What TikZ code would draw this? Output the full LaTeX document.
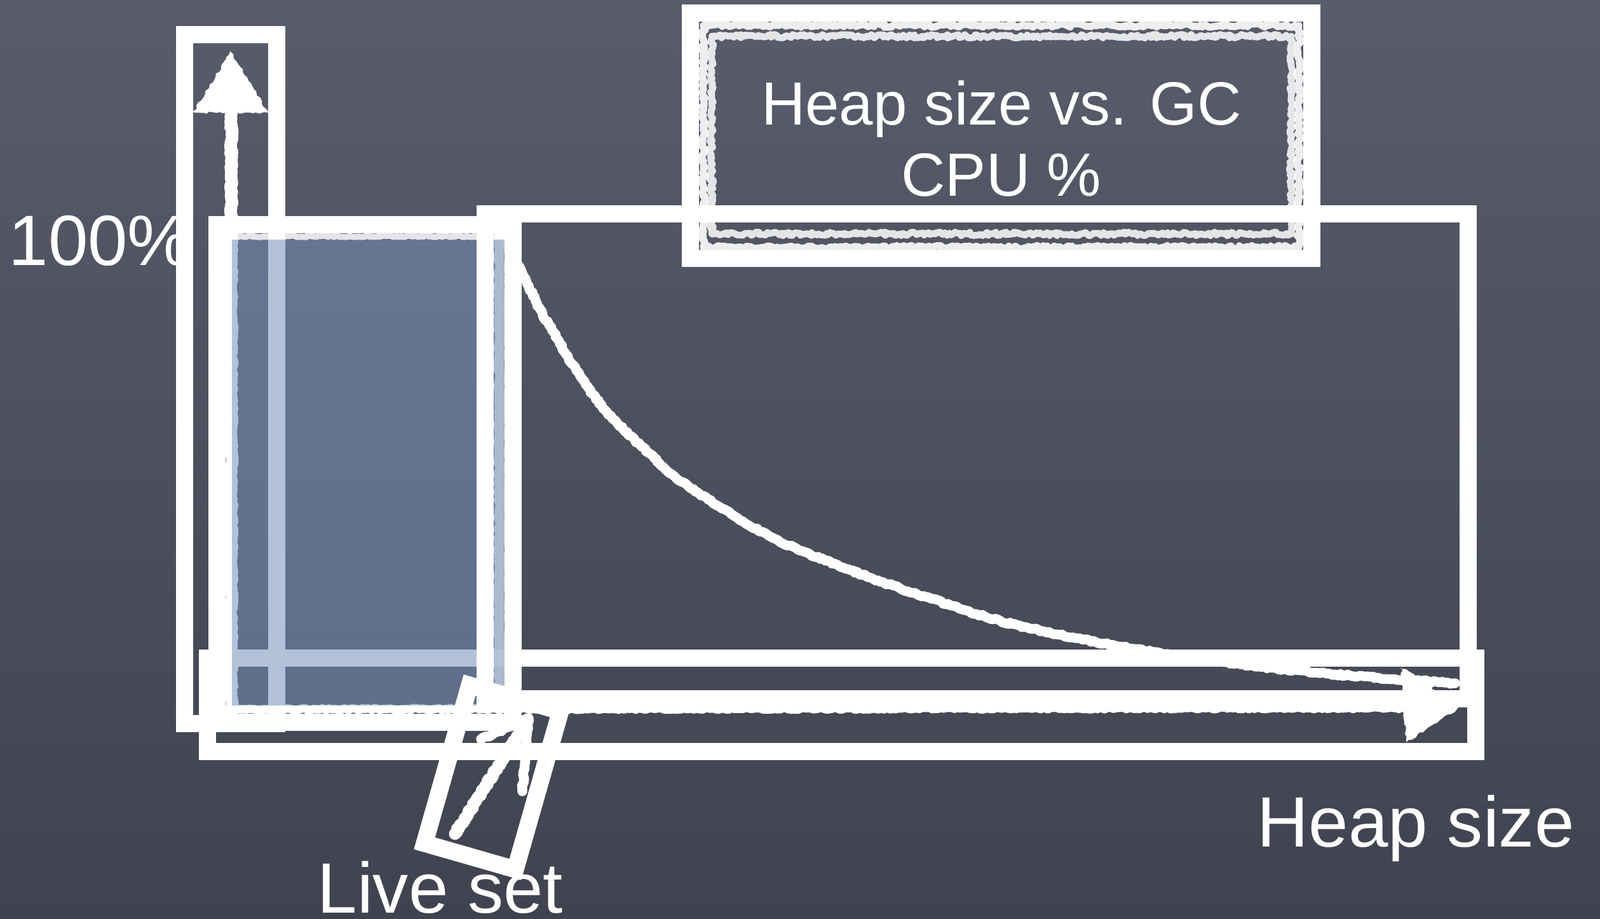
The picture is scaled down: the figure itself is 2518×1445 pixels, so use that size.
\documentclass[tikz,border=0pt]{standalone}
\usepackage{fontspec}
\setmainfont{Liberation Sans}
\usetikzlibrary{decorations.pathmorphing}
\definecolor{boardtop}{HTML}{585C6B}
\definecolor{boardmid}{HTML}{555A6A}
\definecolor{boardbottom}{HTML}{40434F}
\definecolor{liveblue}{RGB}{118,144,184}
\tikzset{
  annot/.style={draw=white, line width=7.68pt, line join=miter},
  chalk/.style={draw=white, line cap=round, line join=round, decorate,
    decoration={random steps, segment length=1.2pt, amplitude=0.45pt}},
  roughchalk/.style={draw=white, line cap=round, line join=round, decorate,
    decoration={random steps, segment length=1pt, amplitude=0.8pt}},
  chalkfill/.style={fill=white, decorate,
    decoration={random steps, segment length=1.5pt, amplitude=0.6pt}},
  lbl/.style={text=white, inner sep=0pt, font=\fontsize{31.9}{38}\selectfont},
  ttl/.style={text=white, inner sep=0pt, font=\fontsize{27.3}{33}\selectfont},
}
\begin{document}
\begin{tikzpicture}[x=0.01cm, y=-0.01cm]
\useasboundingbox (0,0) rectangle (2518,1445);
% chalkboard
\shade[top color=boardtop, middle color=boardmid, bottom color=boardbottom]
  (0,0) rectangle (2518,1445);

% title chalk double frame
\draw[roughchalk, line width=3.2pt, opacity=0.9] (1107,40) rectangle (2044,389);
\draw[roughchalk, line width=3pt, opacity=0.85] (1120,57) rectangle (2032,368);

% y axis
\draw[chalk, line width=5.6pt] (364,1120) -- (364,170);
\fill[chalkfill] (304,177) -- (422,177) -- (363,80) -- cycle;

% x axis
\draw[chalk, line width=3.8pt] (350,1116) -- (2215,1114);
\fill[chalkfill] (2205,1050) -- (2213,1168) -- (2300,1112) -- cycle;

% live set block chalk borders
\draw[chalk, line width=2.8pt, opacity=0.85] (358,372) -- (790,372);
\draw[chalk, line width=4.6pt, opacity=0.9] (786,370) -- (786,1116);

% curve
\draw[chalk, line width=4.3pt] plot[smooth, tension=0.6] coordinates {
  (786,362) (805,395) (821,427) (850,487) (877,533) (907,583) (955,648)
  (1020,712) (1083,765) (1210,843) (1338,897) (1465,942) (1593,982)
  (1767,1018) (1927,1042) (2088,1060) (2290,1075)};

% live set arrow
\draw[chalk, line width=5.4pt] (716,1312) -- (826,1140);
\draw[chalk, line width=4.4pt] (757,1163) -- (832,1130) -- (822,1245);

% annotation boxes under the blue overlay
\draw[annot] (290.5,54.5) rectangle (435.5,1138.5);
\draw[annot] (326.5,1035.5) rectangle (2322.5,1182.5);

% blue translucent block
\fill[liveblue, opacity=0.55] (365,377) rectangle (795,1110);

% other annotation boxes
\draw[annot] (341.5,353.5) rectangle (807.5,1136.5);
\draw[annot] (763.5,336.5) rectangle (2310.5,1099.5);
\draw[annot] (1086.5,20.5) rectangle (2064.5,406.5);
\draw[annot] (739,1078) -- (882,1119) -- (811,1368) -- (668,1327) -- cycle;

% texts
\node[lbl, anchor=base west] (hundred) at (13,417) {100\%};
\node[lbl, anchor=base west] (heapsize) at (1978,1332) {Heap size};
\node[lbl, anchor=base west] (liveset) at (499,1436) {Live set};
\node[ttl, anchor=base] (title1) at (1576,196) {Heap size vs. GC};
\node[ttl, anchor=base] (title2) at (1576,308) {CPU \%};
\end{tikzpicture}
\end{document}
